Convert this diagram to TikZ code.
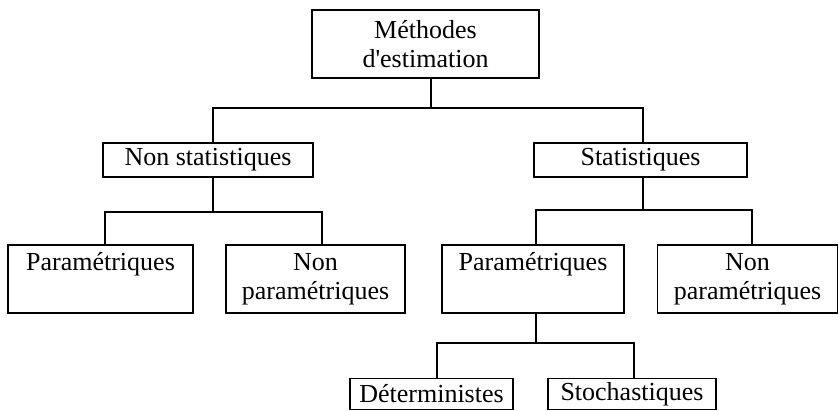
\documentclass[tikz,border=0pt]{standalone}
\usepackage{fontspec}
\setmainfont{Liberation Serif}
\begin{document}
\begin{tikzpicture}[x=1pt,y=-1pt,
  box/.style={draw=black, line width=1.7pt, inner sep=0pt, align=center,
    font=\fontsize{26}{29}\selectfont},
  link/.style={draw=black, line width=1.7pt}]
\useasboundingbox (0,0) rectangle (840,411);
\fill[white] (0,0) rectangle (840,411);
\clip (0,0) rectangle (840,411);
% nodes
\node[box, minimum width=227pt, minimum height=68pt] (m) at (425.5,44) {Méthodes\\d\textquotesingle estimation};
\node[box, minimum width=210pt, minimum height=34pt] (ns) at (208,160) {Non statistiques};
\node[box, minimum width=213pt, minimum height=34pt] (st) at (640.5,160) {Statistiques};
\node[box, minimum width=185pt, minimum height=68pt] (p1) at (100.5,279) {Paramétriques\\\phantom{p}};
\node[box, minimum width=179pt, minimum height=68pt] (np1) at (315.5,279) {Non\\paramétriques};
\node[box, minimum width=182pt, minimum height=68pt] (p2) at (533,279) {Paramétriques\\\phantom{p}};
\node[box, minimum width=180pt, minimum height=68pt] (np2) at (747.5,279) {Non\\paramétriques};
\node[box, minimum width=163pt, minimum height=31pt] (det) at (431.5,394) {Déterministes};
\node[box, minimum width=168pt, minimum height=31pt] (sto) at (632,394) {Stochastiques};
% junctions
\coordinate (j1) at (431,108);
\coordinate (a1) at (213,108);
\coordinate (a2) at (643,108);
\coordinate (b1) at (105,212);
\coordinate (b2) at (322,212);
\coordinate (c1) at (536,210);
\coordinate (c2) at (752,210);
\coordinate (d1) at (437,343);
\coordinate (d2) at (634,343);
% connectors
\draw[link] (m.south -| j1) -- (j1);
\draw[link] (a1 |- ns.north) -- (a1) -- (a2) -- (a2 |- st.north);
\draw[link] (a1 |- ns.south) -- (a1 |- b1);
\draw[link] (b1 |- p1.north) -- (b1) -- (b2) -- (b2 |- np1.north);
\draw[link] (a2 |- st.south) -- (a2 |- c1);
\draw[link] (c1 |- p2.north) -- (c1) -- (c2) -- (c2 |- np2.north);
\draw[link] (c1 |- p2.south) -- (c1 |- d1);
\draw[link] (d1 |- det.north) -- (d1) -- (d2) -- (d2 |- sto.north);
\end{tikzpicture}
\end{document}
